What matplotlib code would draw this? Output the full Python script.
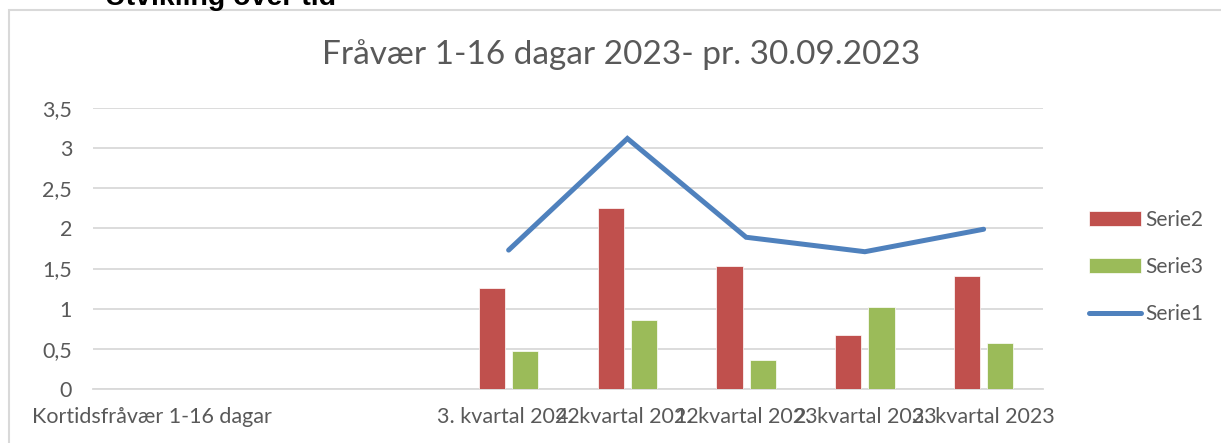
import numpy as np
import matplotlib.pyplot as plt
from matplotlib.patches import Rectangle

plt.rcParams['font.family'] = ['Lato', 'DejaVu Sans']

categories = ["Kortidsfråvær 1-16 dagar", "", "",
              "3. kvartal 2022", "4. kvartal 2022", "1. kvartal 2023",
              "2. kvartal 2023", "3. kvartal 2023"]
serie1 = [np.nan, np.nan, np.nan, 1.73, 3.12, 1.89, 1.71, 1.99]
serie2 = [0, 0, 0, 1.26, 2.25, 1.53, 0.67, 1.41]
serie3 = [0, 0, 0, 0.47, 0.86, 0.36, 1.02, 0.57]
yticks = [0, 0.5, 1, 1.5, 2, 2.5, 3, 3.5]

RED = "#C0504D"
GREEN = "#9BBB59"
BLUE = "#4F81BD"
GRID = "#D9D9D9"
TEXT = "#595959"

fig = plt.figure(figsize=(12.21, 4.43), dpi=100)
ax = fig.add_axes([93 / 1221, 54 / 443, 950 / 1221, 281 / 443])

x = np.arange(len(categories))
w = 0.22
b2 = ax.bar(x - 0.14, serie2, w, color=RED, edgecolor="white", linewidth=0.5, label="Serie2", zorder=3)
b3 = ax.bar(x + 0.14, serie3, w, color=GREEN, edgecolor="white", linewidth=0.5, label="Serie3", zorder=3)
l1, = ax.plot(x, serie1, color=BLUE, linewidth=3.6, solid_capstyle="round",
              solid_joinstyle="miter", label="Serie1", zorder=4)

ax.set_xlim(-0.5, len(categories) - 0.5)
ax.set_ylim(0, 3.5)
ax.set_yticks(yticks)
ax.set_yticklabels([str(v).replace(".", ",").replace(",0", "") for v in yticks])
ax.set_xticks(x)
ax.set_xticklabels(categories)
ax.tick_params(axis="both", length=0, labelsize=15.5, labelcolor=TEXT)
ax.tick_params(axis="y", pad=15)
ax.tick_params(axis="x", pad=13)
ax.grid(axis="y", color=GRID, linewidth=1.3, zorder=0)
for s in ["top", "right", "left"]:
    ax.spines[s].set_visible(False)
ax.spines["bottom"].set_color(GRID)
ax.spines["bottom"].set_linewidth(1.3)

# title is centred on the whole chart frame, not the plot area
fig.text(621 / 1221, (443 - 55) / 443, "Fråvær 1-16 dagar 2023- pr. 30.09.2023",
         fontsize=24, color=TEXT, ha="center", va="center")

leg = ax.legend([b2, b3, l1], ["Serie2", "Serie3", "Serie1"],
                loc="center left", bbox_to_anchor=(1.029, 0.435), frameon=False,
                fontsize=15, labelspacing=1.3, handlelength=2.5, handletextpad=0.2)
for t in leg.get_texts():
    t.set_color(TEXT)

# outer chart frame
fig.patches.append(Rectangle((9 / 1221, -0.05), 1.1, (443 - 10) / 443 + 0.05,
                             transform=fig.transFigure, fill=False,
                             edgecolor=GRID, linewidth=1.5, clip_on=False))

fig.text(105 / 1221, (443 - 5) / 443, "Utvikling over tid", fontsize=20.5,
         fontweight="bold", family="Liberation Sans", color="black", va="baseline")

fig.savefig("out.png", dpi=100)
